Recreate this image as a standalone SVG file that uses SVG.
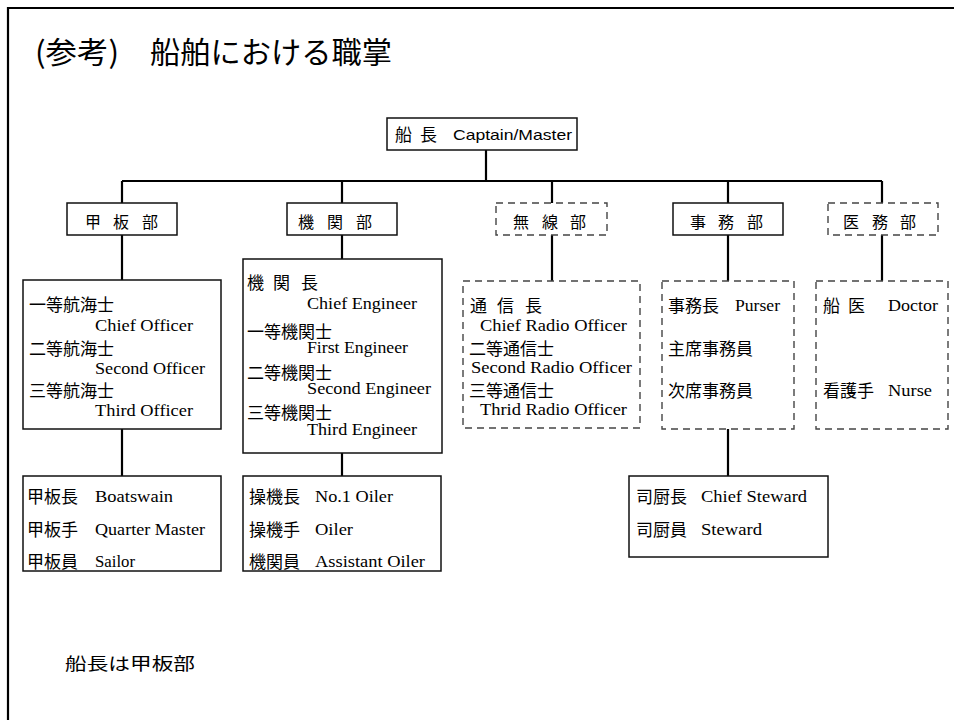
<svg xmlns="http://www.w3.org/2000/svg" width="954" height="720" viewBox="0 0 954 720">
<style>
.box{fill:#fff;stroke:#111;stroke-width:1.5}
.dbox{fill:#fff;stroke:#444;stroke-width:1.4;stroke-dasharray:7 5}
.conn{stroke:#000;stroke-width:2.2;fill:none}
.jp{font-family:"Noto Sans CJK JP","Noto Sans",sans-serif;font-size:17px;fill:#000}
.dept{font-family:"Noto Sans CJK JP","Noto Sans",sans-serif;font-size:16px;fill:#000}
.en{font-family:"Liberation Serif","Times New Roman",serif;font-size:16px;fill:#000}
.sans{font-family:"Liberation Sans",Arial,sans-serif;font-size:15px;fill:#000}
.title{font-family:"Noto Sans CJK JP","Noto Sans",sans-serif;font-size:30px;fill:#000}
</style>
<rect x="0" y="0" width="954" height="720" fill="#fff"/>
<path d="M8,720 V8 H954" fill="none" stroke="#000" stroke-width="2.2"/>
<g id="title">
<text class="title" x="35" y="63" textLength="84" lengthAdjust="spacingAndGlyphs">(参考)</text>
<text class="title" x="150" y="63" textLength="242" lengthAdjust="spacingAndGlyphs">船舶における職掌</text>
</g>
<g id="connectors">
<path class="conn" d="M486,150 V181 M122,181 H882 M122,181 V203 M342,181 V203 M552,181 V203 M728,181 V203 M882,181 V203"/>
<path class="conn" d="M122,235 V280 M122,429 V476 M342,235 V259 M342,453 V476 M552,235 V281 M728,235 V281 M728,429 V476 M882,235 V281"/>
</g>
<g id="captain">
<rect class="box" x="387" y="118" width="190" height="32"/>
<text class="jp" x="395" y="141" font-size="16">船</text>
<text class="jp" x="420" y="141" font-size="16">長</text>
<text class="sans" x="453" y="140" textLength="119" lengthAdjust="spacingAndGlyphs">Captain/Master</text>
</g>
<g id="dept-deck">
<rect class="box" x="67" y="203" width="110" height="32"/>
<text class="dept" x="85 113 142" y="228">甲板部</text>
</g>
<g id="dept-engine">
<rect class="box" x="287" y="203" width="110" height="32"/>
<text class="dept" x="298 327 356" y="228">機関部</text>
</g>
<g id="dept-radio">
<rect class="dbox" x="496" y="203" width="111" height="32"/>
<text class="dept" x="513 542 570" y="228">無線部</text>
</g>
<g id="dept-purser">
<rect class="box" x="673" y="203" width="110" height="32"/>
<text class="dept" x="690 718 747" y="228">事務部</text>
</g>
<g id="dept-medical">
<rect class="dbox" x="828" y="203" width="110" height="32"/>
<text class="dept" x="843 872 900" y="228">医務部</text>
</g>
<g id="deck-officers">
<rect class="box" x="23" y="280" width="198" height="149"/>
<text class="jp" x="29" y="311">一等航海士</text>
<text class="en" x="95" y="331" textLength="98" lengthAdjust="spacingAndGlyphs">Chief Officer</text>
<text class="jp" x="29" y="355">二等航海士</text>
<text class="en" x="95" y="374" textLength="110" lengthAdjust="spacingAndGlyphs">Second Officer</text>
<text class="jp" x="29" y="397">三等航海士</text>
<text class="en" x="95" y="416" textLength="98" lengthAdjust="spacingAndGlyphs">Third Officer</text>
</g>
<g id="engine-officers">
<rect class="box" x="243" y="259" width="199" height="194"/>
<text class="jp" x="247 273 301" y="289">機関長</text>
<text class="en" x="307" y="309" textLength="110" lengthAdjust="spacingAndGlyphs">Chief Engineer</text>
<text class="jp" x="247" y="338">一等機関士</text>
<text class="en" x="307" y="353" textLength="101" lengthAdjust="spacingAndGlyphs">First Engineer</text>
<text class="jp" x="247" y="379">二等機関士</text>
<text class="en" x="307" y="394" textLength="124" lengthAdjust="spacingAndGlyphs">Second Engineer</text>
<text class="jp" x="247" y="419">三等機関士</text>
<text class="en" x="307" y="435" textLength="110" lengthAdjust="spacingAndGlyphs">Third Engineer</text>
</g>
<g id="radio-officers">
<rect class="dbox" x="463" y="281" width="177" height="147"/>
<text class="jp" x="470 497 525" y="312">通信長</text>
<text class="en" x="480" y="331" textLength="147" lengthAdjust="spacingAndGlyphs">Chief Radio Officer</text>
<text class="jp" x="469" y="355">二等通信士</text>
<text class="en" x="471" y="373" textLength="161" lengthAdjust="spacingAndGlyphs">Second Radio Officer</text>
<text class="jp" x="469" y="397">三等通信士</text>
<text class="en" x="480" y="415" textLength="147" lengthAdjust="spacingAndGlyphs">Thrid Radio Officer</text>
</g>
<g id="purser-staff">
<rect class="dbox" x="662" y="281" width="132" height="148"/>
<text class="jp" x="668" y="312">事務長</text>
<text class="en" x="735" y="311" textLength="45" lengthAdjust="spacingAndGlyphs">Purser</text>
<text class="jp" x="668" y="355">主席事務員</text>
<text class="jp" x="668" y="397">次席事務員</text>
</g>
<g id="medical-staff">
<rect class="dbox" x="816" y="281" width="132" height="148"/>
<text class="jp" x="823 848" y="312">船医</text>
<text class="en" x="888" y="311" textLength="50" lengthAdjust="spacingAndGlyphs">Doctor</text>
<text class="jp" x="823" y="397">看護手</text>
<text class="en" x="888" y="396" textLength="44" lengthAdjust="spacingAndGlyphs">Nurse</text>
</g>
<g id="deck-crew">
<rect class="box" x="23" y="476" width="198" height="95"/>
<text class="jp" x="27" y="503">甲板長</text>
<text class="en" x="95" y="502" textLength="78" lengthAdjust="spacingAndGlyphs">Boatswain</text>
<text class="jp" x="27" y="536">甲板手</text>
<text class="en" x="95" y="535" textLength="110" lengthAdjust="spacingAndGlyphs">Quarter Master</text>
<text class="jp" x="27" y="568">甲板員</text>
<text class="en" x="95" y="567" textLength="40" lengthAdjust="spacingAndGlyphs">Sailor</text>
</g>
<g id="engine-crew">
<rect class="box" x="243" y="476" width="198" height="95"/>
<text class="jp" x="249" y="503">操機長</text>
<text class="en" x="315" y="502" textLength="78" lengthAdjust="spacingAndGlyphs">No.1 Oiler</text>
<text class="jp" x="249" y="536">操機手</text>
<text class="en" x="315" y="535" textLength="38" lengthAdjust="spacingAndGlyphs">Oiler</text>
<text class="jp" x="249" y="568">機関員</text>
<text class="en" x="315" y="567" textLength="110" lengthAdjust="spacingAndGlyphs">Assistant Oiler</text>
</g>
<g id="stewards">
<rect class="box" x="629" y="476" width="199" height="81"/>
<text class="jp" x="636" y="503">司厨長</text>
<text class="en" x="701" y="502" textLength="106" lengthAdjust="spacingAndGlyphs">Chief Steward</text>
<text class="jp" x="636" y="536">司厨員</text>
<text class="en" x="701" y="535" textLength="61" lengthAdjust="spacingAndGlyphs">Steward</text>
</g>
<g id="note">
<text class="jp" x="65" y="670" font-size="19" textLength="130" lengthAdjust="spacingAndGlyphs">船長は甲板部</text>
</g>
</svg>
